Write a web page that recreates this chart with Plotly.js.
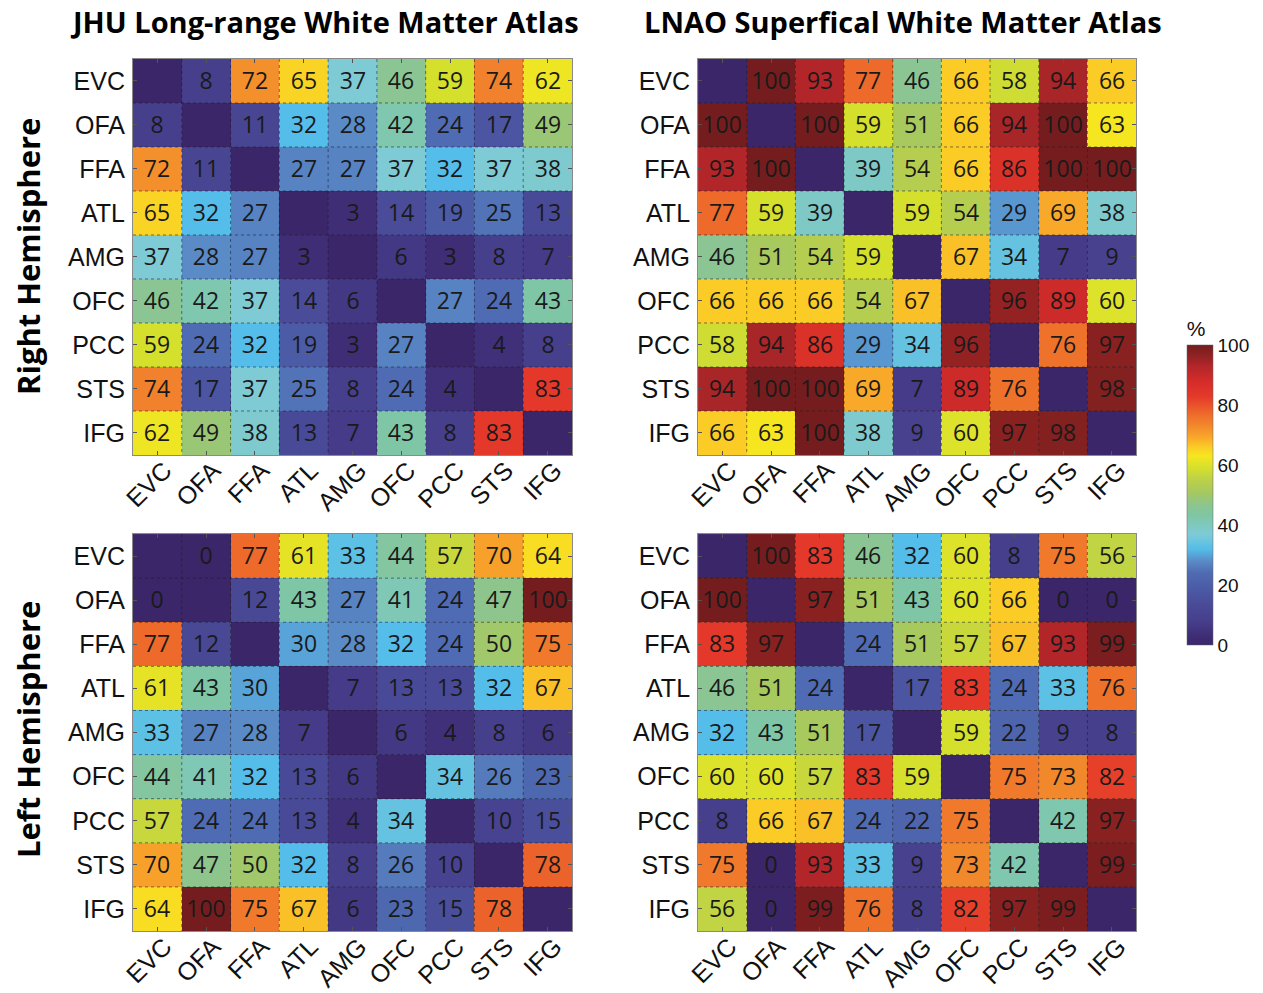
<!DOCTYPE html>
<html>
<head>
<meta charset="utf-8">
<script src="https://cdn.plot.ly/plotly-3.0.1.min.js"></script>
<style>html,body{margin:0;padding:0;background:#fff}#chart{width:1263px;height:993px}</style>
</head>
<body>
<div id="chart"></div>
<script>
const regions = ["EVC","OFA","FFA","ATL","AMG","OFC","PCC","STS","IFG"];

const jhuRight = [
  [0, 8, 72, 65, 37, 46, 59, 74, 62],
  [8, 0, 11, 32, 28, 42, 24, 17, 49],
  [72, 11, 0, 27, 27, 37, 32, 37, 38],
  [65, 32, 27, 0, 3, 14, 19, 25, 13],
  [37, 28, 27, 3, 0, 6, 3, 8, 7],
  [46, 42, 37, 14, 6, 0, 27, 24, 43],
  [59, 24, 32, 19, 3, 27, 0, 4, 8],
  [74, 17, 37, 25, 8, 24, 4, 0, 83],
  [62, 49, 38, 13, 7, 43, 8, 83, 0]
];
const lnaoRight = [
  [0, 100, 93, 77, 46, 66, 58, 94, 66],
  [100, 0, 100, 59, 51, 66, 94, 100, 63],
  [93, 100, 0, 39, 54, 66, 86, 100, 100],
  [77, 59, 39, 0, 59, 54, 29, 69, 38],
  [46, 51, 54, 59, 0, 67, 34, 7, 9],
  [66, 66, 66, 54, 67, 0, 96, 89, 60],
  [58, 94, 86, 29, 34, 96, 0, 76, 97],
  [94, 100, 100, 69, 7, 89, 76, 0, 98],
  [66, 63, 100, 38, 9, 60, 97, 98, 0]
];
const jhuLeft = [
  [0, 0, 77, 61, 33, 44, 57, 70, 64],
  [0, 0, 12, 43, 27, 41, 24, 47, 100],
  [77, 12, 0, 30, 28, 32, 24, 50, 75],
  [61, 43, 30, 0, 7, 13, 13, 32, 67],
  [33, 27, 28, 7, 0, 6, 4, 8, 6],
  [44, 41, 32, 13, 6, 0, 34, 26, 23],
  [57, 24, 24, 13, 4, 34, 0, 10, 15],
  [70, 47, 50, 32, 8, 26, 10, 0, 78],
  [64, 100, 75, 67, 6, 23, 15, 78, 0]
];
const lnaoLeft = [
  [0, 100, 83, 46, 32, 60, 8, 75, 56],
  [100, 0, 97, 51, 43, 60, 66, 0, 0],
  [83, 97, 0, 24, 51, 57, 67, 93, 99],
  [46, 51, 24, 0, 17, 83, 24, 33, 76],
  [32, 43, 51, 17, 0, 59, 22, 9, 8],
  [60, 60, 57, 83, 59, 0, 75, 73, 82],
  [8, 66, 67, 24, 22, 75, 0, 42, 97],
  [75, 0, 93, 33, 9, 73, 42, 0, 99],
  [56, 0, 99, 76, 8, 82, 97, 99, 0]
];

const colTitles = ["JHU Long-range White Matter Atlas", "LNAO Superfical White Matter Atlas"];
const rowTitles = ["Right Hemisphere", "Left Hemisphere"];
const cbTicks = [0, 20, 40, 60, 80, 100];

const cscale = [
  [0.00, '#3b2669'],
  [0.04, '#40307a'],
  [0.08, '#463f8c'],
  [0.14, '#4a4c99'],
  [0.19, '#4c5ba6'],
  [0.24, '#4f6bb3'],
  [0.28, '#5a8bc7'],
  [0.32, '#55bde9'],
  [0.37, '#7ecbd6'],
  [0.43, '#7fc6a6'],
  [0.47, '#8dc58c'],
  [0.51, '#a7c95e'],
  [0.55, '#bbd04a'],
  [0.59, '#d5e02d'],
  [0.63, '#f6e620'],
  [0.66, '#fbcb26'],
  [0.69, '#f9a92a'],
  [0.73, '#f2882c'],
  [0.77, '#ee6a2b'],
  [0.83, '#e4382a'],
  [0.88, '#d42c29'],
  [0.93, '#b2262a'],
  [0.97, '#8a2121'],
  [1.00, '#751d1e']
];

const mats = [jhuRight, lnaoRight, jhuLeft, lnaoLeft];
const xd = [[0.1053, 0.4529], [0.5527, 0.8995]];
const yd = [[0.5418, 0.9406], [0.0624, 0.4622]];

const data = [];
const layout = {
  width: 1263, height: 993,
  margin: {l: 0, r: 0, t: 0, b: 0},
  paper_bgcolor: '#fff', plot_bgcolor: '#fff',
  showlegend: false,
  annotations: [],
  shapes: []
};

mats.forEach((m, k) => {
  const col = k % 2, row = Math.floor(k / 2);
  const ax = k === 0 ? '' : String(k + 1);
  const text = m.map((r, i) => r.map((v, j) => i === j ? '' : String(v)));
  data.push({
    type: 'heatmap',
    z: m, x: regions, y: regions,
    text: text, texttemplate: '%{text}',
    textfont: {family: 'Open Sans, sans-serif', size: 23, color: '#1a1a1a'},
    xaxis: 'x' + ax, yaxis: 'y' + ax,
    zmin: 0, zmax: 100,
    colorscale: cscale,
    xgap: 0, ygap: 0,
    showscale: k === 1,
    colorbar: {
      x: 0.9319, xanchor: 'left', y: 0.5156, yanchor: 'middle',
      len: 348, lenmode: 'pixels', thickness: 26,
      outlinewidth: 0.5, outlinecolor: '#666',
      tickvals: cbTicks, ticks: '', ticklen: 3,
      tickfont: {family: 'Liberation Sans, Arial, sans-serif', size: 19, color: '#111'},
      title: {text: '%', side: 'top', font: {family: 'Liberation Sans, Arial, sans-serif', size: 21, color: '#111'}}
    },
    hovertemplate: '%{y} - %{x}: %{z}<extra></extra>'
  });
  const axStyle = {
    type: 'category', showgrid: false, zeroline: false,
    showline: true, linecolor: '#8a8a8a', linewidth: 1, mirror: 'ticks',
    ticks: 'inside', ticklen: 4, tickcolor: '#555',
    tickfont: {family: 'Liberation Sans, Arial, sans-serif', size: 25, color: '#111'},
    fixedrange: true
  };
  layout['xaxis' + ax] = Object.assign({}, axStyle, {
    domain: xd[col], anchor: 'y' + ax, tickangle: -45,
    ticklabelstandoff: -10, ticklabelshift: 7,
    categoryorder: 'array', categoryarray: regions, range: [-0.5, regions.length - 0.5]
  });
  layout['yaxis' + ax] = Object.assign({}, axStyle, {
    domain: yd[row], anchor: 'x' + ax,
    ticklabelstandoff: 2,
    categoryorder: 'array', categoryarray: regions, range: [regions.length - 0.5, -0.5]
  });
  for (let g = 0; g < regions.length - 1; g++) {
    const p = g + 0.5;
    layout.shapes.push({type: 'line', xref: 'x' + ax, yref: 'y' + ax,
      x0: p, x1: p, y0: -0.5, y1: regions.length - 0.5,
      line: {color: 'rgba(30,30,30,0.55)', width: 1, dash: 'dot'}});
    layout.shapes.push({type: 'line', xref: 'x' + ax, yref: 'y' + ax,
      y0: p, y1: p, x0: -0.5, x1: regions.length - 0.5,
      line: {color: 'rgba(30,30,30,0.55)', width: 1, dash: 'dot'}});
  }
});

const titleFont = {family: 'Open Sans, sans-serif', size: 29, color: '#000'};
layout.annotations.push({text: '<b>' + colTitles[0] + '</b>', xref: 'paper', yref: 'paper',
  x: 0.2573, y: 0.978, xanchor: 'center', yanchor: 'middle', showarrow: false, font: titleFont});
layout.annotations.push({text: '<b>' + colTitles[1] + '</b>', xref: 'paper', yref: 'paper',
  x: 0.715, y: 0.978, xanchor: 'center', yanchor: 'middle', showarrow: false, font: titleFont});
const rowFont = {family: 'Open Sans, sans-serif', size: 31, color: '#000'};
layout.annotations.push({text: '<b>' + rowTitles[0] + '</b>', xref: 'paper', yref: 'paper',
  x: 0.0222, y: 0.7412, xanchor: 'center', yanchor: 'middle', showarrow: false, textangle: -90, font: rowFont});
layout.annotations.push({text: '<b>' + rowTitles[1] + '</b>', xref: 'paper', yref: 'paper',
  x: 0.0222, y: 0.2649, xanchor: 'center', yanchor: 'middle', showarrow: false, textangle: -90, font: rowFont});

Plotly.newPlot('chart', data, layout, {displayModeBar: false, staticPlot: true});
</script>
</body>
</html>
